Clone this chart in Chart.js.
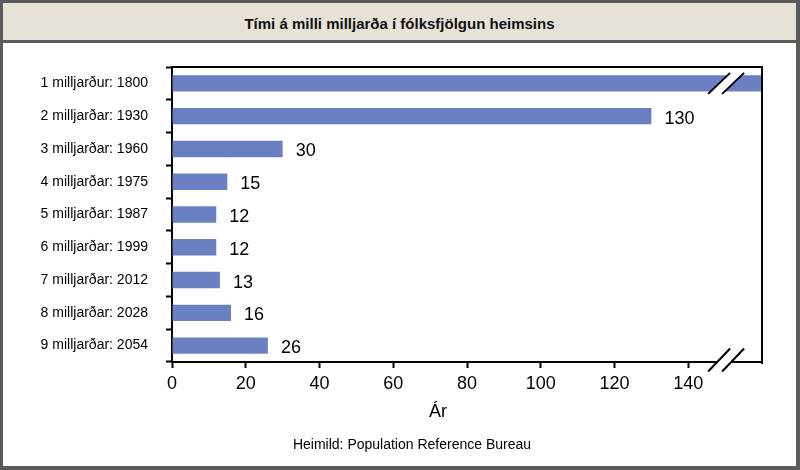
<!DOCTYPE html>
<html>
<head>
<meta charset="utf-8">
<script src="https://cdn.jsdelivr.net/npm/chart.js@4"></script>
<style>
  body { margin: 0; background: #fff; }
  #wrap { position: relative; width: 800px; height: 470px; overflow: hidden; }
  #frame {
    position: absolute; left: 0; top: 0; width: 800px; height: 470px; box-sizing: border-box;
    border: 3px solid #5b5b5b; border-right-width: 4px; border-bottom-width: 4px; pointer-events: none;
  }
  #title {
    position: absolute; left: 3px; right: 4px; top: 3px; height: 37px;
    background: #e6e2d8; border-bottom: 3px solid #5b5b5b;
    font: bold 15px "Liberation Sans", Arial, sans-serif; line-height: 42px;
    text-align: center; color: #111;
  }
  canvas { position: absolute; left: 0; top: 0; }
</style>
</head>
<body>
<div id="wrap">
  <canvas id="chart" width="800" height="470"></canvas>
  <div id="title">Tími á milli milljarða í fólksfjölgun heimsins</div>
  <div id="frame"></div>
</div>
<script>
var categories = ['1 milljarður: 1800', '2 milljarðar: 1930', '3 milljarðar: 1960', '4 milljarðar: 1975',
    '5 milljarðar: 1987', '6 milljarðar: 1999', '7 milljarðar: 2012', '8 milljarðar: 2028', '9 milljarðar: 2054'];
// first bar runs off the broken axis, so it gets no label
var yearsBetween = [200, 130, 30, 15, 12, 12, 13, 16, 26];
var xTicks = [0, 20, 40, 60, 80, 100, 120, 140];
var xMax = 160;
var breakAt = 150;
var xTitle = 'Ár';
var source = 'Heimild: Population Reference Bureau';

var FONT = '"Liberation Sans", Arial, sans-serif';
Chart.defaults.font.family = FONT;
Chart.defaults.color = '#000';

var extras = {
    id: 'extras',
    afterDatasetsDraw: function (chart) {
        var ctx = chart.ctx;
        var meta = chart.getDatasetMeta(0);
        ctx.save();
        ctx.font = '18px ' + FONT;
        ctx.fillStyle = '#000';
        ctx.textBaseline = 'middle';
        meta.data.forEach(function (bar, i) {
            if (yearsBetween[i] > xMax) return;
            ctx.fillText(String(yearsBetween[i]), bar.x + 13, bar.y + 2.5);
        });
        ctx.restore();
    },
    afterDraw: function (chart) {
        var ctx = chart.ctx;
        var a = chart.chartArea;
        var x = chart.scales.x;
        ctx.save();
        // top and right frame
        ctx.strokeStyle = '#000';
        ctx.lineWidth = 2;
        ctx.beginPath();
        ctx.moveTo(a.left, a.top);
        ctx.lineTo(a.right, a.top);
        ctx.lineTo(a.right, a.bottom + 2);
        ctx.stroke();

        // axis break marks: on the first bar and on the x axis
        var bx = x.getPixelForValue(breakAt);
        var firstBar = chart.getDatasetMeta(0).data[0];
        [[firstBar.y, 10.5], [a.bottom - 2, 11.5]].forEach(function (b) {
            var cy = b[0], hh = b[1], hw = 11;
            var c1 = bx - 6, c2 = bx + 8;
            ctx.fillStyle = '#fff';
            ctx.beginPath();
            ctx.moveTo(c1 - hw, cy + hh);
            ctx.lineTo(c1 + hw, cy - hh);
            ctx.lineTo(c2 + hw, cy - hh);
            ctx.lineTo(c2 - hw, cy + hh);
            ctx.closePath();
            ctx.fill();
            ctx.strokeStyle = '#000';
            ctx.lineWidth = 2;
            [c1, c2].forEach(function (c) {
                ctx.beginPath();
                ctx.moveTo(c - hw, cy + hh);
                ctx.lineTo(c + hw, cy - hh);
                ctx.stroke();
            });
        });

        ctx.fillStyle = '#000';
        ctx.textAlign = 'center';
        ctx.textBaseline = 'alphabetic';
        ctx.font = '18px ' + FONT;
        ctx.fillText(xTitle, 438, 417);
        ctx.font = '14px ' + FONT;
        ctx.fillText(source, 412, 449);
        ctx.restore();
    }
};

new Chart(document.getElementById('chart').getContext('2d'), {
    type: 'bar',
    data: {
        labels: categories,
        datasets: [{
            data: yearsBetween,
            backgroundColor: '#6a80c3',
            borderWidth: 0,
            barPercentage: 0.5,
            categoryPercentage: 1
        }]
    },
    options: {
        indexAxis: 'y',
        responsive: false,
        animation: false,
        layout: { padding: { left: 0, top: 67, right: 38, bottom: 0 } },
        plugins: { legend: { display: false }, title: { display: false }, tooltip: { enabled: false } },
        scales: {
            x: {
                min: 0,
                max: xMax,
                afterFit: function (s) { s.height = 108; },
                afterBuildTicks: function (s) {
                    s.ticks = xTicks.concat([xMax]).map(function (v) { return { value: v }; });
                },
                ticks: {
                    autoSkip: false,
                    maxRotation: 0,
                    padding: 5,
                    font: { size: 18 },
                    callback: function (v) { return xTicks.indexOf(v) >= 0 ? v : ''; }
                },
                grid: {
                    drawOnChartArea: false,
                    tickLength: 6,
                    tickWidth: 2,
                    color: function (c) { return c.tick && c.tick.value === xMax ? 'rgba(0,0,0,0)' : '#000'; }
                },
                border: { display: true, color: '#000', width: 2 }
            },
            y: {
                afterFit: function (s) { s.width = 172; },
                ticks: { padding: 18, font: { size: 14 } },
                grid: {
                    offset: true,
                    drawOnChartArea: false,
                    tickLength: 6,
                    tickWidth: 2,
                    color: '#000'
                },
                border: { display: true, color: '#000', width: 2 }
            }
        }
    },
    plugins: [extras]
});
</script>
</body>
</html>
